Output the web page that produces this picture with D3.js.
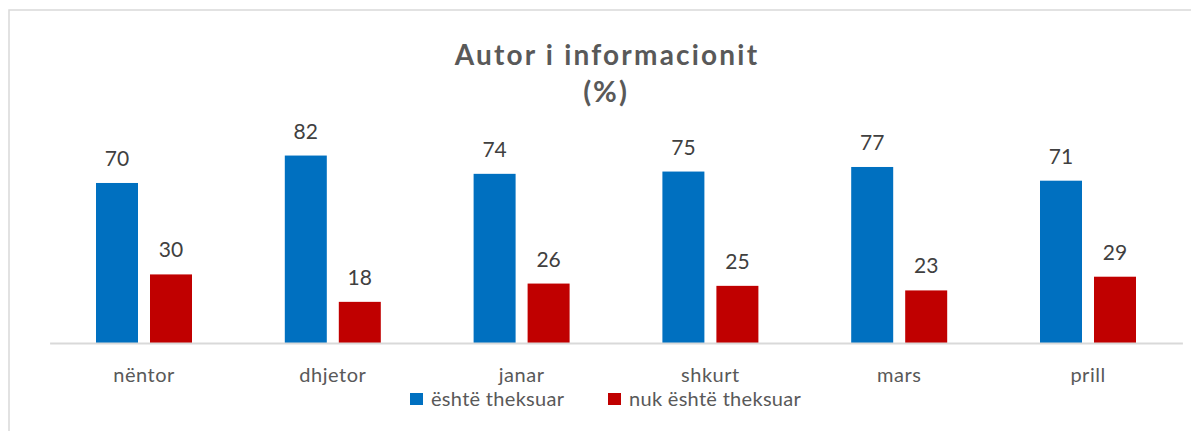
<!DOCTYPE html>
<html>
<head>
<meta charset="utf-8">
<script src="https://cdn.jsdelivr.net/npm/d3@7"></script>
<style>
  body { margin: 0; background: #fff; }
  svg { display: block; font-family: Lato, "Open Sans", sans-serif; }
</style>
</head>
<body>
<svg id="chart" width="1191" height="431"></svg>
<script>
// data
const months = ["nëntor", "dhjetor", "janar", "shkurt", "mars", "prill"];
const seriesNames = ["është theksuar", "nuk është theksuar"];
const theksuar = [70, 82, 74, 75, 77, 71];
const joTheksuar = [30, 18, 26, 25, 23, 29];
const colors = ["#0070C0", "#C00000"];

const svg = d3.select("#chart");
const width = 1191, height = 431;

// outer frame (runs off the right and bottom edge)
svg.append("rect")
    .attr("x", 9).attr("y", 10)
    .attr("width", width + 20).attr("height", height + 20)
    .attr("fill", "#fff")
    .attr("stroke", "#d9d9d9")
    .attr("stroke-width", 1.5);

// title, two lines
svg.append("text")
    .attr("x", 607).attr("y", 65)
    .attr("text-anchor", "middle")
    .attr("fill", "#595959")
    .style("font-size", "28px")
    .style("font-weight", "bold")
    .style("letter-spacing", "2.2px")
    .text("Autor i informacionit");
svg.append("text")
    .attr("x", 606).attr("y", 102)
    .attr("text-anchor", "middle")
    .attr("fill", "#595959")
    .style("font-size", "29px")
    .style("font-weight", "bold")
    .style("letter-spacing", "2px")
    .text("(%)");

const x0 = d3.scaleBand()
    .domain(months)
    .range([49.6, 1182.4]);

const x1 = d3.scaleBand()
    .domain(seriesNames)
    .range([x0.bandwidth() / 2 - 48, x0.bandwidth() / 2 + 48])
    .paddingInner(12 / 54);

const y = d3.scaleLinear()
    .domain([0, 100])
    .range([343, 114.4]);

const rows = months.map((m, i) => ({
    month: m,
    values: [
        { name: seriesNames[0], value: theksuar[i], color: colors[0] },
        { name: seriesNames[1], value: joTheksuar[i], color: colors[1] }
    ]
}));

const groups = svg.selectAll(".grp")
    .data(rows)
    .enter()
    .append("g")
    .attr("class", "grp")
    .attr("transform", d => `translate(${x0(d.month)},0)`);

groups.selectAll("rect")
    .data(d => d.values)
    .enter()
    .append("rect")
    .attr("x", d => x1(d.name))
    .attr("y", d => y(d.value))
    .attr("width", x1.bandwidth())
    .attr("height", d => y(0) - y(d.value))
    .attr("fill", d => d.color);

// data labels
groups.selectAll(".lbl")
    .data(d => d.values)
    .enter()
    .append("text")
    .attr("class", "lbl")
    .attr("x", d => x1(d.name) + x1.bandwidth() / 2)
    .attr("y", d => y(d.value) - 17)
    .attr("text-anchor", "middle")
    .attr("fill", "#404040")
    .style("font-size", "21px")
    .text(d => d.value);

// x axis
const xAxis = d3.axisBottom(x0).tickSize(0).tickPadding(25);
const axisG = svg.append("g")
    .attr("transform", `translate(0,${y(0)})`)
    .call(xAxis);
axisG.select(".domain").attr("stroke", "#d9d9d9").attr("stroke-width", 2);
axisG.selectAll("text")
    .attr("fill", "#595959")
    .style("font-size", "20px")
    .style("font-family", "Lato, 'Open Sans', sans-serif")
    .style("letter-spacing", "0.5px")
    .attr("dy", "0.71em");

// legend
const legendX = [410, 608];
const legend = svg.append("g");
seriesNames.forEach((name, i) => {
    legend.append("rect")
        .attr("x", legendX[i]).attr("y", 393)
        .attr("width", 13).attr("height", 12)
        .attr("fill", colors[i]);
    legend.append("text")
        .attr("x", legendX[i] + 21).attr("y", 406)
        .attr("fill", "#595959")
        .style("font-size", "20px")
        .style("letter-spacing", "0.3px")
        .text(name);
});
</script>
</body>
</html>
